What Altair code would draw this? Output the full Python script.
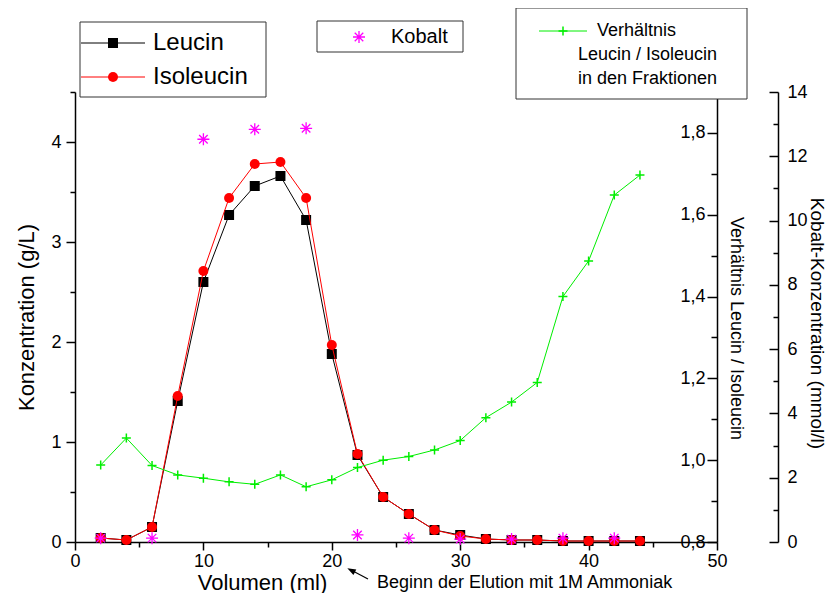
import altair as alt
import pandas as pd

FONT = "Liberation Sans"

# ---- data ----
volumen = [2, 4, 6, 8, 10, 12, 14, 16, 18, 20, 22, 24, 26, 28, 30, 32, 34, 36, 38, 40, 42, 44]
leucin = [0.04, 0.02, 0.15, 1.41, 2.60, 3.27, 3.56, 3.66, 3.22, 1.88, 0.87, 0.45,
          0.28, 0.12, 0.07, 0.03, 0.02, 0.02, 0.01, 0.01, 0.01, 0.01]
isoleucin = [0.04, 0.02, 0.15, 1.46, 2.71, 3.44, 3.78, 3.80, 3.44, 1.97, 0.88, 0.45,
             0.28, 0.12, 0.06, 0.03, 0.02, 0.02, 0.01, 0.01, 0.01, 0.01]
verhaeltnis = [0.988, 1.054, 0.987, 0.964, 0.956, 0.947, 0.941, 0.964, 0.935, 0.952, 0.982,
               1.000, 1.009, 1.025, 1.048, 1.104, 1.142, 1.190, 1.400, 1.487, 1.648, 1.697]
kobalt_vol = [2, 6, 10, 14, 18, 22, 26, 30, 34, 38, 42]
kobalt = [0.12, 0.12, 12.53, 12.84, 12.87, 0.22, 0.12, 0.09, 0.09, 0.12, 0.12]

x_major = [0, 10, 20, 30, 40, 50]
x_minor = [5, 15, 25, 35, 45]
conc_major = [0, 1, 2, 3, 4]
conc_minor = [0.5, 1.5, 2.5, 3.5, 4.5]
ratio_major = [0.8, 1.0, 1.2, 1.4, 1.6, 1.8]
ratio_minor = [0.9, 1.1, 1.3, 1.5, 1.7, 1.9]
kob_major = [0, 2, 4, 6, 8, 10, 12, 14]
kob_minor = [1, 3, 5, 7, 9, 11, 13]

df = pd.DataFrame({"vol": volumen, "leu": leucin, "iso": isoleucin, "ratio": verhaeltnis})
dk = pd.DataFrame({"vol": kobalt_vol, "kob": kobalt})
one = pd.DataFrame({"k": [0]})

W, H = 642, 450
xs = alt.Scale(domain=[0, 50], nice=False, zero=False)
conc_s = alt.Scale(domain=[0, 4.5], nice=False, zero=False)
ratio_s = alt.Scale(domain=[0.8, 1.9], nice=False, zero=False)
kob_s = alt.Scale(domain=[0, 14], nice=False, zero=False)

AX = dict(grid=False, domainColor="black", tickColor="black", labelColor="black",
          titleColor="black", domainWidth=1.5, tickWidth=1.5, labelFont=FONT,
          titleFont=FONT, labelFontSize=18, titleFontWeight="normal", labelFlush=False,
          zindex=0)
MINOR = dict(grid=False, labels=False, domain=False, tickColor="black", tickWidth=1.5,
             title=None, zindex=0)

ASTER = "M0,-1L0,1M-1,0L1,0M-0.71,-0.71L0.71,0.71M-0.71,0.71L0.71,-0.71"
PLUS = "M-1,0L1,0M0,-1L0,1"
ARROW = "M0,-1L0.65,0.8L-0.65,0.8Z"

x_main = alt.X("vol:Q", scale=xs, axis=alt.Axis(
    orient="bottom", values=x_major, format="d", tickSize=8, labelPadding=2,
    title="Volumen (ml)", titleFontSize=22, titleX=187, titleY=47,
    titleAlign="center", titleBaseline="alphabetic", **AX))
x_min = alt.X("vol:Q", scale=xs, axis=alt.Axis(orient="bottom", values=x_minor, tickSize=5, **MINOR))
x_none = alt.X("vol:Q", scale=xs, axis=None)

# concentration (left axis)
leu_line = alt.Chart(df).mark_line(color="black", strokeWidth=1).encode(
    x=x_main,
    y=alt.Y("leu:Q", scale=conc_s, axis=alt.Axis(
        orient="left", values=conc_major, format="d", tickSize=9, labelPadding=5,
        title="Konzentration (g/L)", titleFontSize=22, titleAngle=270,
        titleX=-42, titleY=225, titleAlign="center", titleBaseline="alphabetic", **AX)))
conc_minor_l = alt.Chart(df).mark_point(opacity=0).encode(
    x=x_min,
    y=alt.Y("leu:Q", scale=conc_s, axis=alt.Axis(orient="left", values=conc_minor, tickSize=5, **MINOR)))
leu_pts = alt.Chart(df).mark_point(shape="square", filled=True, color="black", size=100, opacity=1).encode(
    x=x_none, y=alt.Y("leu:Q", scale=conc_s, axis=None))
iso_line = alt.Chart(df).mark_line(color="#ff0000", strokeWidth=1).encode(
    x=x_none, y=alt.Y("iso:Q", scale=conc_s, axis=None))
iso_pts = alt.Chart(df).mark_point(shape="circle", filled=True, color="#ff0000", size=100, opacity=1).encode(
    x=x_none, y=alt.Y("iso:Q", scale=conc_s, axis=None))

# ratio (inner right axis)
ratio_line = alt.Chart(df).mark_line(color="#00ee00", strokeWidth=1).encode(
    x=x_none,
    y=alt.Y("ratio:Q", scale=ratio_s, axis=alt.Axis(
        orient="left", offset=-W, values=ratio_major, tickSize=10, labelPadding=2,
        labelExpr="replace(format(datum.value, '.1f'), '.', ',')",
        title="Verhältnis Leucin / Isoleucin", titleFontSize=18, titleAngle=90,
        titleX=13, titleY=236, titleAlign="center", titleBaseline="alphabetic", **AX)))
ratio_minor_l = alt.Chart(df).mark_point(opacity=0).encode(
    x=x_none,
    y=alt.Y("ratio:Q", scale=ratio_s, axis=alt.Axis(orient="left", offset=-W, values=ratio_minor, tickSize=6, **MINOR)))
ratio_pts = alt.Chart(df).mark_point(shape=PLUS, filled=False, color="#00ee00", size=81,
                                     strokeWidth=1.5, opacity=1).encode(
    x=x_none, y=alt.Y("ratio:Q", scale=ratio_s, axis=None))

# Kobalt (outer right axis)
kob_pts = alt.Chart(dk).mark_point(shape=ASTER, filled=False, color="#ff00ff", size=144,
                                   strokeWidth=1.3, opacity=1).encode(
    x=x_none,
    y=alt.Y("kob:Q", scale=kob_s, axis=alt.Axis(
        orient="left", offset=-(W + 61), values=kob_major, format="d", tickSize=9,
        labelPadding=-18, labelAlign="left",
        title="Kobalt-Konzentration (mmol/l)", titleFontSize=19, titleAngle=90,
        titleX=32, titleY=231, titleAlign="center", titleBaseline="alphabetic", **AX)))
kob_minor_l = alt.Chart(dk).mark_point(opacity=0).encode(
    x=x_none,
    y=alt.Y("kob:Q", scale=kob_s, axis=alt.Axis(orient="left", offset=-(W + 61), values=kob_minor, tickSize=5, **MINOR)))

# ---- legends and annotation (decorations) ----
def box(x1, x2, y1, y2):
    return alt.Chart(one).mark_rect(fill="white", stroke="#333333", strokeWidth=1).encode(
        x=alt.value(x1), x2=alt.value(x2), y=alt.value(y1), y2=alt.value(y2))

def seg(x1, x2, y, color):
    return alt.Chart(one).mark_rule(color=color, strokeWidth=1).encode(
        x=alt.value(x1), x2=alt.value(x2), y=alt.value(y))

def txt(s, x, y, size, align="left"):
    return alt.Chart(one).mark_text(text=s, align=align, baseline="middle", font=FONT,
                                    fontSize=size, color="black").encode(
        x=alt.value(x), y=alt.value(y))

def sym(shape, x, y, size, color, filled=True, sw=1):
    return alt.Chart(one).mark_point(shape=shape, filled=filled, color=color, size=size,
                                     strokeWidth=sw, opacity=1).encode(
        x=alt.value(x), y=alt.value(y))

legend1 = [box(5, 191, -70, 5),
           seg(6, 70, -49, "black"), sym("square", 38, -49, 100, "black"), txt("Leucin", 78, -49, 24),
           seg(6, 70, -15, "#ff0000"), sym("circle", 38, -15, 100, "#ff0000"), txt("Isoleucin", 78, -15, 24)]
legend2 = [box(242, 388, -71, -40),
           sym(ASTER, 284, -55, 144, "#ff00ff", filled=False, sw=1.3), txt("Kobalt", 316, -55, 20)]
legend3 = [box(441, 672, -84, 7),
           seg(464, 512, -61, "#00ee00"), sym(PLUS, 488, -61, 81, "#00ee00", filled=False, sw=1.5),
           txt("Verhältnis", 522, -61, 18), txt("Leucin / Isoleucin", 503, -37, 18),
           txt("in den Fraktionen", 503, -13, 18)]

arrow = [alt.Chart(one).mark_rule(color="black", strokeWidth=1.2).encode(
            x=alt.value(293), y=alt.value(487), x2=alt.value(276), y2=alt.value(478)),
         alt.Chart(one).mark_point(shape=ARROW, filled=True, color="black", size=90, angle=297.6,
                                   opacity=1).encode(x=alt.value(276.5), y=alt.value(478.5)),
         txt("Beginn der Elution mit 1M Ammoniak", 302, 491, 18)]

chart = alt.layer(
    leu_line, conc_minor_l, leu_pts, iso_line, iso_pts,
    ratio_line, ratio_minor_l, ratio_pts,
    kob_pts, kob_minor_l,
    *legend1, *legend2, *legend3, *arrow,
).resolve_scale(y="independent").resolve_axis(x="independent", y="independent").properties(
    width=W, height=H,
    autosize=alt.AutoSizeParams(type="none"),
    padding={"left": 67, "top": 84, "right": 110, "bottom": 51},
).configure(font=FONT).configure_view(stroke=None)

chart.save("out.html", embed_options={"renderer": "svg", "actions": False})
